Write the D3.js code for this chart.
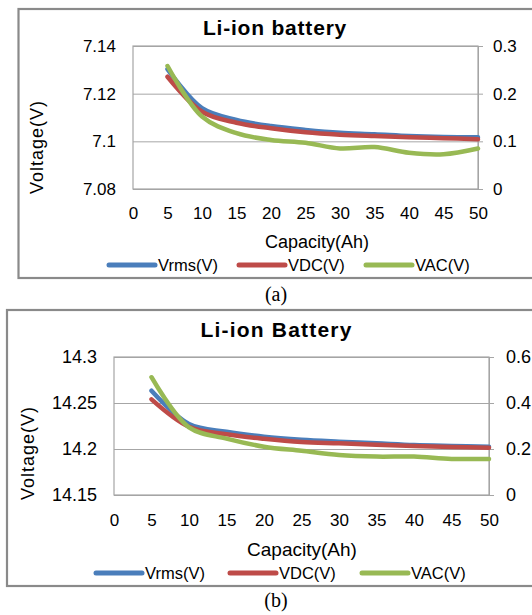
<!DOCTYPE html>
<html>
<head>
<meta charset="utf-8">
<script src="https://cdnjs.cloudflare.com/ajax/libs/d3/7.8.5/d3.min.js"></script>
<style>
  body { margin: 0; background: #fff; }
  text { font-family: "Liberation Sans", Arial, sans-serif; fill: #000; }
</style>
</head>
<body>
<div class="chart"></div>
<script>
var svgWidth = 532;
var svgHeight = 615;

// x values shared by both panels
var capacity = [5, 10, 15, 20, 25, 30, 35, 40, 45, 50];
var xTicks = [0, 5, 10, 15, 20, 25, 30, 35, 40, 45, 50];

// panel (a)
var vrmsA = [7.1303, 7.1139, 7.1090, 7.1064, 7.1048, 7.1036, 7.1030, 7.1022, 7.1018, 7.1017];
var vdcA = [7.1271, 7.1124, 7.1078, 7.1055, 7.1038, 7.1028, 7.1022, 7.1017, 7.1013, 7.1009];
var vacA = [0.258, 0.152, 0.117, 0.103, 0.097, 0.085, 0.088, 0.076, 0.073, 0.085];
var leftTicksA = [7.08, 7.1, 7.12, 7.14];
var rightTicksA = [0, 0.1, 0.2, 0.3];

// panel (b)
var vrmsB = [14.2634, 14.2272, 14.2187, 14.2134, 14.2101, 14.2080, 14.2062, 14.2043, 14.2033, 14.2025];
var vdcB = [14.2540, 14.2242, 14.2160, 14.2111, 14.2076, 14.2062, 14.2047, 14.2033, 14.2022, 14.2014];
var vacB = [0.512, 0.294, 0.245, 0.210, 0.192, 0.174, 0.167, 0.167, 0.157, 0.157];
var leftTicksB = [14.15, 14.2, 14.25, 14.3];
var rightTicksB = [0, 0.2, 0.4, 0.6];

var seriesNames = ["Vrms(V)", "VDC(V)", "VAC(V)"];
var seriesColors = ["#4a7ebb", "#be4b48", "#98b954"];

var svg = d3.select(".chart")
  .append("svg")
  .attr("width", svgWidth)
  .attr("height", svgHeight);

function drawPanel(p) {
  // outer frame, right side runs off the page like the scan
  svg.append("rect")
    .attr("x", p.box[0])
    .attr("y", p.box[1])
    .attr("width", 600)
    .attr("height", p.box[2] - p.box[1])
    .attr("fill", "none")
    .attr("stroke", "#8a8a8a")
    .attr("stroke-width", 2.2);

  var width = p.plot.right - p.plot.left;
  var height = p.plot.bottom - p.plot.top;

  var g = svg.append("g")
    .attr("transform", `translate(${p.plot.left}, ${p.plot.top})`);

  var xLinearScale = d3.scaleLinear().domain([0, 50]).range([0, width]);
  var yLeft = d3.scaleLinear().domain([p.leftTicks[0], p.leftTicks[3]]).range([height, 0]);
  var yRight = d3.scaleLinear().domain([p.rightTicks[0], p.rightTicks[3]]).range([height, 0]);

  // gridlines + left labels
  var leftAxis = g.append("g")
    .call(d3.axisLeft(yLeft).tickValues(p.leftTicks)
      .tickSizeInner(-width).tickSizeOuter(0).tickPadding(17)
      .tickFormat(d => String(d)));
  leftAxis.select(".domain").remove();
  leftAxis.selectAll("line").attr("stroke", "#a6a6a6");
  leftAxis.selectAll("text")
    .attr("font-size", p.tickSize)
    .attr("font-family", "Liberation Sans, Arial, sans-serif");

  var rightAxis = g.append("g")
    .attr("transform", `translate(${width}, 0)`)
    .call(d3.axisRight(yRight).tickValues(p.rightTicks)
      .tickSize(5).tickPadding(p.rightPad)
      .tickFormat(d => String(d)));
  rightAxis.select(".domain").attr("stroke", "#a6a6a6");
  rightAxis.selectAll("line").attr("stroke", "#a6a6a6");
  rightAxis.selectAll("text")
    .attr("font-size", p.tickSize)
    .attr("font-family", "Liberation Sans, Arial, sans-serif");

  var bottomAxis = g.append("g")
    .attr("transform", `translate(0, ${height})`)
    .call(d3.axisBottom(xLinearScale).tickValues(xTicks)
      .tickSize(0).tickPadding(p.xPad));
  bottomAxis.select(".domain").remove();
  bottomAxis.selectAll("text")
    .attr("font-size", 17)
    .attr("font-family", "Liberation Sans, Arial, sans-serif");

  // plot area border
  g.append("rect")
    .attr("width", width)
    .attr("height", height)
    .attr("fill", "none")
    .attr("stroke", "#a6a6a6")
    .attr("stroke-width", 1.2);

  var leftLine = d3.line()
    .x((d, i) => xLinearScale(capacity[i]))
    .y(d => yLeft(d))
    .curve(d3.curveCatmullRom);
  var rightLine = d3.line()
    .x((d, i) => xLinearScale(capacity[i]))
    .y(d => yRight(d))
    .curve(d3.curveCatmullRom);

  [p.vrms, p.vdc, p.vac].forEach(function(vals, i) {
    g.append("path")
      .attr("d", i < 2 ? leftLine(vals) : rightLine(vals))
      .attr("fill", "none")
      .attr("stroke", seriesColors[i])
      .attr("stroke-width", 4.5)
      .attr("stroke-linecap", "round")
      .attr("stroke-linejoin", "round");
  });

  // title
  svg.append("text")
    .attr("x", p.title[1])
    .attr("y", p.title[2])
    .attr("text-anchor", "middle")
    .attr("font-size", 21)
    .attr("font-weight", "bold")
    .attr("letter-spacing", p.title[3])
    .text(p.title[0]);

  // axis titles
  svg.append("text")
    .attr("transform", `translate(${p.yLabel[0]}, ${p.yLabel[1]}) rotate(-90)`)
    .attr("text-anchor", "middle")
    .attr("dy", "0.35em")
    .attr("font-size", 18)
    .attr("letter-spacing", 1)
    .text("Voltage(V)");

  svg.append("text")
    .attr("x", p.xLabel[0])
    .attr("y", p.xLabel[1])
    .attr("text-anchor", "middle")
    .attr("dy", "0.35em")
    .attr("font-size", p.xLabel[2])
    .text("Capacity(Ah)");

  // legend
  seriesNames.forEach(function(name, i) {
    var lx = p.legendX[i];
    svg.append("line")
      .attr("x1", lx)
      .attr("x2", lx + 46)
      .attr("y1", p.legendY)
      .attr("y2", p.legendY)
      .attr("stroke", seriesColors[i])
      .attr("stroke-width", 5)
      .attr("stroke-linecap", "round");
    svg.append("text")
      .attr("x", lx + 49)
      .attr("y", p.legendY)
      .attr("dy", "0.35em")
      .attr("font-size", 16.5)
      .text(name);
  });

  // caption
  svg.append("text")
    .attr("x", p.caption[1])
    .attr("y", p.caption[2])
    .attr("text-anchor", "middle")
    .attr("font-size", 20)
    .style("font-family", "Liberation Serif, Times New Roman, serif")
    .text(p.caption[0]);
}

drawPanel({
  box: [18.5, 9, 278],
  plot: { left: 133, right: 478, top: 46, bottom: 189 },
  vrms: vrmsA, vdc: vdcA, vac: vacA,
  leftTicks: leftTicksA, rightTicks: rightTicksA,
  tickSize: 17, rightPad: 10, xPad: 18,
  title: ["Li-ion battery", 275, 35, 0.8],
  yLabel: [37, 147],
  xLabel: [317, 242, 18],
  legendY: 265,
  legendX: [109, 239, 366],
  caption: ["(a)", 276, 301]
});

drawPanel({
  box: [7, 310, 586],
  plot: { left: 114, right: 489, top: 357, bottom: 495 },
  vrms: vrmsB, vdc: vdcB, vac: vacB,
  leftTicks: leftTicksB, rightTicks: rightTicksB,
  tickSize: 18, rightPad: 12, xPad: 19,
  title: ["Li-ion Battery", 276.5, 337, 1.2],
  yLabel: [28, 453],
  xLabel: [302, 549, 19],
  legendY: 573,
  legendX: [96, 230, 362],
  caption: ["(b)", 276, 607]
});
</script>
</body>
</html>
